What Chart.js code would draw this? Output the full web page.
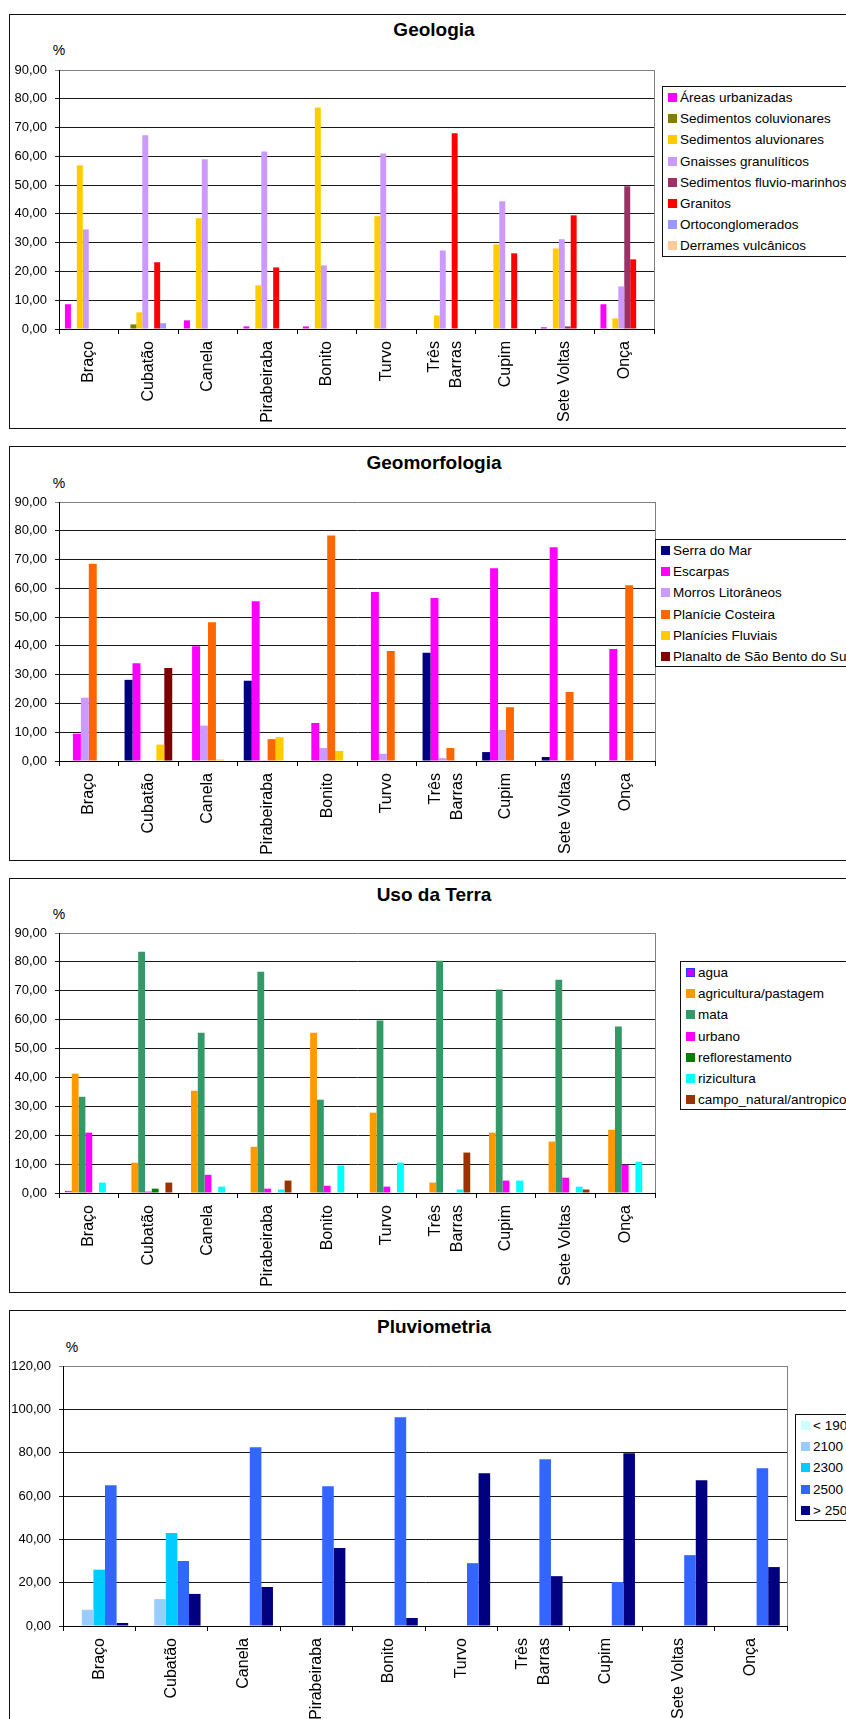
<!DOCTYPE html>
<html>
<head>
<meta charset="utf-8">
<title>Bacias - Geologia, Geomorfologia, Uso da Terra, Pluviometria</title>
<script src="https://cdn.jsdelivr.net/npm/chart.js@4.4.1/dist/chart.umd.min.js"></script>
<style>
body{margin:0;width:846px;height:1719px;overflow:hidden;background:#fff;font-family:"Liberation Sans",Arial,sans-serif;color:#000;position:relative;}
.moldura{position:absolute;left:9px;width:900px;border:1px solid #111;box-sizing:border-box;}
.titulo{position:absolute;font-weight:bold;font-size:19px;line-height:22px;white-space:nowrap;transform:translateX(-50%);}
.pct{position:absolute;font-size:14px;line-height:16px;transform:translateX(-50%);}
.legenda{position:absolute;width:300px;border:1px solid #111;background:#fff;box-sizing:border-box;}
.item{position:absolute;left:0;height:21px;display:flex;align-items:center;font-size:13.5px;white-space:nowrap;}
.item .q{display:inline-block;width:9px;height:9px;margin-left:5px;margin-right:3px;box-sizing:border-box;}
canvas{position:absolute;left:0;}
</style>
</head>
<body>
<script>
// bacias (eixo x de todos os graficos)
var categorias = ['Braço','Cubatão','Canela','Pirabeiraba','Bonito','Turvo',['Três','Barras'],'Cupim','Sete Voltas','Onça'];

// Geologia (%)
var geoUrbanizadas      = [8.6, null, 3.0, 0.9, 0.9, null, null, null, 0.6, 8.6];
var geoColuvionares     = [null, 1.6, null, null, null, null, null, null, null, null];
var geoAluvionares      = [56.9, 5.8, 38.5, 15.2, 77.0, 39.2, 4.7, 29.4, 28.0, 3.7];
var geoGnaisses         = [34.6, 67.3, 59.0, 61.7, 22.1, 61.0, 27.3, 44.4, 31.2, 14.8];
var geoFluvioMarinhos   = [null, null, null, null, null, null, null, null, 0.9, 49.6];
var geoGranitos         = [null, 23.2, null, 21.4, null, null, 68.0, 26.3, 39.5, 24.2];
var geoOrto             = [null, 2.0, null, null, null, null, null, null, null, null];
var geoDerrames         = [null, null, null, null, null, null, null, null, null, null];

// Geomorfologia (%)
var gmSerraMar          = [null, 28.2, null, 27.9, null, null, 37.6, 3.1, 1.4, null];
var gmEscarpas          = [9.5, 34.0, 39.9, 55.5, 13.2, 58.7, 56.6, 67.0, 74.3, 38.9];
var gmMorros            = [22.0, null, 12.3, 0.3, 4.5, 2.5, 1.0, 10.8, null, null];
var gmPlanicieCosteira  = [68.5, null, 48.2, 7.6, 78.4, 38.2, 4.5, 18.7, 24.0, 61.1];
var gmPlaniciesFluviais = [null, 5.7, 0.5, 8.3, 3.5, null, null, null, null, null];
var gmPlanalto          = [null, 32.3, null, null, null, null, null, null, null, null];

// Uso da Terra (%)
var usoAgua             = [0.8, null, null, null, null, null, null, null, null, null];
var usoAgricultura      = [41.3, 10.5, 35.4, 16.0, 55.5, 27.8, 3.6, 20.9, 17.8, 21.9];
var usoMata             = [33.3, 83.5, 55.5, 76.6, 32.3, 59.7, 80.4, 70.4, 73.8, 57.6];
var usoUrbano           = [20.9, 0.5, 6.3, 1.5, 2.5, 2.2, null, 4.3, 5.3, 9.8];
var usoReflorestamento  = [null, 1.5, null, null, null, null, null, null, null, null];
var usoRizicultura      = [3.6, null, 2.2, 1.2, 9.5, 10.5, 1.2, 4.3, 2.2, 10.8];
var usoCampo            = [null, 3.6, null, 4.3, null, null, 14.0, null, 1.2, null];

// Pluviometria (%)
var pluvMenos1900       = [null, null, null, null, null, null, null, null, null, null];
var pluv2100            = [7.5, 12.4, null, null, null, null, null, null, null, null];
var pluv2300            = [26.0, 42.9, null, null, null, null, null, null, null, null];
var pluv2500            = [65.0, 30.0, 82.5, 64.5, 96.3, 29.0, 77.0, 20.3, 32.7, 72.8];
var pluvMais2500        = [1.4, 14.8, 18.0, 36.0, 3.7, 70.5, 23.0, 79.7, 67.3, 27.2];

Chart.defaults.color = '#000';
Chart.defaults.font.family = '"Liberation Sans", Arial, sans-serif';

function serie(label, data, cor, borda) {
    var s = {label: label, data: data, backgroundColor: cor, borderWidth: 0};
    if (borda) { s.borderColor = borda; s.borderWidth = 1; }
    return s;
}

// moldura cinza em cima/direita da area do grafico
var bordaPlot = {
    id: 'bordaPlot',
    beforeDatasetsDraw: function (chart) {
        var a = chart.chartArea, ctx = chart.ctx;
        var xr = Math.round(a.right) + 0.5;
        ctx.save();
        ctx.strokeStyle = '#808080';
        ctx.lineWidth = 1;
        ctx.beginPath();
        ctx.moveTo(xr, a.top);
        ctx.lineTo(xr, a.bottom);
        ctx.stroke();
        ctx.restore();
    }
};

// rotulos com duas linhas ficam centrados na categoria
var centraRotulos = {
    id: 'centraRotulos',
    beforeDraw: function (chart) {
        var items = chart.scales.x.getLabelItems();
        items.forEach(function (it) {
            if (Array.isArray(it.label) && !it._centrado) {
                var lh = (it.font && it.font.lineHeight) || 21.6;
                it.options.translation[0] -= (it.label.length - 1) * lh / 2;
                it._centrado = true;
            }
        });
    }
};

function montaLegenda(datasets, pos) {
    var div = document.createElement('div');
    div.className = 'legenda';
    div.style.left = pos.x + 'px';
    div.style.top = pos.y + 'px';
    div.style.height = (datasets.length * 21.2 + 1) + 'px';
    datasets.forEach(function (d, i) {
        var it = document.createElement('div');
        it.className = 'item';
        it.style.top = (i * 21.2) + 'px';
        var q = document.createElement('span');
        q.className = 'q';
        q.style.background = d.backgroundColor;
        if (d.borderWidth) q.style.border = '1px solid ' + d.borderColor;
        it.appendChild(q);
        it.appendChild(document.createTextNode(d.label));
        div.appendChild(it);
    });
    document.body.appendChild(div);
}

function desenhaGrafico(cfg) {
    var alturaCaixa = cfg.base - cfg.topo;
    var m = document.createElement('div');
    m.className = 'moldura';
    m.style.top = cfg.topo + 'px';
    m.style.height = alturaCaixa + 'px';
    document.body.appendChild(m);

    var t = document.createElement('div');
    t.className = 'titulo';
    t.textContent = cfg.titulo;
    t.style.left = '434px';
    t.style.top = (cfg.tituloY - 11) + 'px';
    document.body.appendChild(t);

    var p = document.createElement('div');
    p.className = 'pct';
    p.textContent = '%';
    p.style.left = cfg.pct.x + 'px';
    p.style.top = (cfg.pct.y - 8) + 'px';
    document.body.appendChild(p);

    var alturaCanvas = Math.min(alturaCaixa, 1719 - cfg.topo);
    var cv = document.createElement('canvas');
    cv.width = 846;
    cv.height = alturaCanvas;
    cv.style.top = cfg.topo + 'px';
    document.body.appendChild(cv);

    var area = cfg.area;
    var alturaX = alturaCanvas - (area.base - cfg.topo);
    var maximo = cfg.max;

    new Chart(cv, {
        type: 'bar',
        data: {labels: categorias, datasets: cfg.series},
        options: {
            responsive: false,
            animation: false,
            devicePixelRatio: 1,
            layout: {padding: {top: area.topo - cfg.topo, left: 0, right: 846 - area.dir, bottom: 0}},
            plugins: {legend: {display: false}, title: {display: false}, tooltip: {enabled: false}},
            datasets: {bar: {categoryPercentage: 0.8, barPercentage: 1}},
            scales: {
                x: {
                    grid: {offset: true, drawOnChartArea: false, drawTicks: true, tickLength: 5, color: '#000'},
                    border: {color: '#000'},
                    ticks: {autoSkip: false, minRotation: 90, maxRotation: 90, padding: 7,
                        font: {size: 16, lineHeight: 1.35}},
                    afterFit: function (s) { s.height = alturaX; }
                },
                y: {
                    min: 0,
                    max: maximo,
                    grid: {
                        tickLength: 4,
                        color: function (c) { return c.tick && c.tick.value === maximo ? '#808080' : '#1a1a1a'; }
                    },
                    border: {color: '#000'},
                    ticks: {
                        stepSize: cfg.passo,
                        padding: 8,
                        font: {size: 13},
                        callback: function (v) { return v.toFixed(2).replace('.', ','); }
                    },
                    afterFit: function (s) { s.width = area.esq; }
                }
            }
        },
        plugins: [bordaPlot, centraRotulos]
    });

    montaLegenda(cfg.series, cfg.legenda);
}

desenhaGrafico({
    titulo: 'Geologia', topo: 14, base: 429, tituloY: 30,
    area: {esq: 59, dir: 654, topo: 70, base: 329},
    pct: {x: 59, y: 50}, legenda: {x: 662, y: 86},
    max: 90, passo: 10,
    series: [
        serie('Áreas urbanizadas', geoUrbanizadas, '#FF00FF'),
        serie('Sedimentos coluvionares', geoColuvionares, '#808000'),
        serie('Sedimentos aluvionares', geoAluvionares, '#FFCC00'),
        serie('Gnaisses granulíticos', geoGnaisses, '#CC99FF'),
        serie('Sedimentos fluvio-marinhos', geoFluvioMarinhos, '#993366'),
        serie('Granitos', geoGranitos, '#FF0000'),
        serie('Ortoconglomerados', geoOrto, '#9999FF'),
        serie('Derrames vulcânicos', geoDerrames, '#FFCC99')
    ]
});

desenhaGrafico({
    titulo: 'Geomorfologia', topo: 446, base: 861, tituloY: 463,
    area: {esq: 59, dir: 655, topo: 502, base: 761},
    pct: {x: 59, y: 483}, legenda: {x: 655, y: 539},
    max: 90, passo: 10,
    series: [
        serie('Serra do Mar', gmSerraMar, '#000080'),
        serie('Escarpas', gmEscarpas, '#FF00FF'),
        serie('Morros Litorâneos', gmMorros, '#CC99FF'),
        serie('Planície Costeira', gmPlanicieCosteira, '#FF6600'),
        serie('Planícies Fluviais', gmPlaniciesFluviais, '#FFCC00'),
        serie('Planalto de São Bento do Sul', gmPlanalto, '#800000')
    ]
});

desenhaGrafico({
    titulo: 'Uso da Terra', topo: 878, base: 1293, tituloY: 895,
    area: {esq: 59, dir: 655, topo: 933, base: 1193},
    pct: {x: 59, y: 914}, legenda: {x: 680, y: 961},
    max: 90, passo: 10,
    series: [
        serie('agua', usoAgua, '#CC00FF', '#3333FF'),
        serie('agricultura/pastagem', usoAgricultura, '#FF9900'),
        serie('mata', usoMata, '#339966'),
        serie('urbano', usoUrbano, '#FF00FF'),
        serie('reflorestamento', usoReflorestamento, '#008000'),
        serie('rizicultura', usoRizicultura, '#00FFFF'),
        serie('campo_natural/antropico', usoCampo, '#993300')
    ]
});

desenhaGrafico({
    titulo: 'Pluviometria', topo: 1310, base: 1730, tituloY: 1327,
    area: {esq: 63, dir: 787, topo: 1366, base: 1626},
    pct: {x: 72, y: 1347}, legenda: {x: 795, y: 1414},
    max: 120, passo: 20,
    series: [
        serie('< 1900', pluvMenos1900, '#CCFFFF'),
        serie('2100', pluv2100, '#99CCFF'),
        serie('2300', pluv2300, '#00CCFF'),
        serie('2500', pluv2500, '#3366FF'),
        serie('> 2500', pluvMais2500, '#000080')
    ]
});
</script>
</body>
</html>
